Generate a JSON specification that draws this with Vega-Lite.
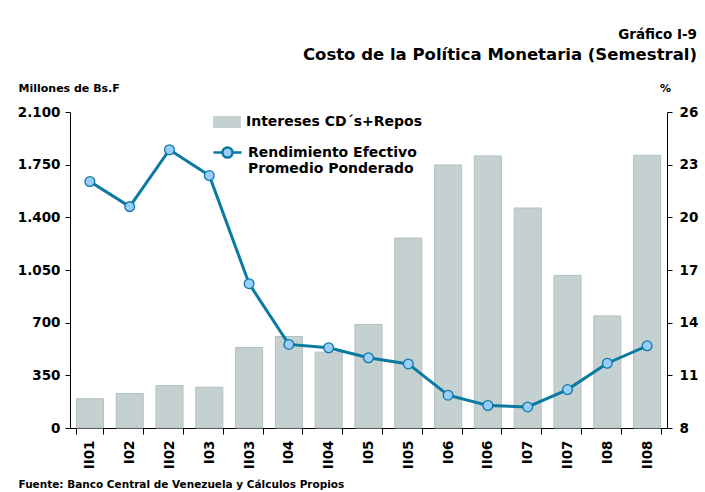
{
  "$schema": "https://vega.github.io/schema/vega-lite/v6.json",
  "width": 597,
  "height": 316,
  "autosize": {"type": "none"},
  "padding": {"left": 70, "top": 112, "right": 38, "bottom": 64},
  "background": "white",
  "config": {
    "view": {"stroke": null},
    "font": "DejaVu Sans",
    "axis": {
      "labelFont": "DejaVu Sans", "labelFontWeight": "bold", "labelColor": "black",
      "titleFont": "DejaVu Sans", "titleFontWeight": "bold", "titleColor": "black",
      "domainColor": "black", "tickColor": "black", "grid": false
    },
    "legend": {"labelFont": "DejaVu Sans", "labelFontWeight": "bold", "labelColor": "black", "labelLimit": 400}
  },
  "title": {
    "text": "Gráfico I-9",
    "subtitle": "Costo de la Política Monetaria (Semestral)",
    "anchor": "end",
    "frame": "group",
    "dx": 30,
    "offset": 19,
    "font": "DejaVu Sans",
    "fontSize": 13.5,
    "fontWeight": "bold",
    "color": "black",
    "subtitleFont": "DejaVu Sans",
    "subtitleFontSize": 16.5,
    "subtitleFontWeight": "bold",
    "subtitleColor": "black",
    "subtitlePadding": 5
  },
  "data": {
    "values": [
      {"periodo": "II01", "intereses": 195, "rendimiento": 22.04},
      {"periodo": "I02", "intereses": 229, "rendimiento": 20.61},
      {"periodo": "II02", "intereses": 282, "rendimiento": 23.85},
      {"periodo": "I03", "intereses": 271, "rendimiento": 22.38},
      {"periodo": "II03", "intereses": 535, "rendimiento": 16.22},
      {"periodo": "I04", "intereses": 608, "rendimiento": 12.76},
      {"periodo": "II04", "intereses": 504, "rendimiento": 12.57},
      {"periodo": "I05", "intereses": 688, "rendimiento": 12.0},
      {"periodo": "II05", "intereses": 1262, "rendimiento": 11.65},
      {"periodo": "I06", "intereses": 1748, "rendimiento": 9.87},
      {"periodo": "II06", "intereses": 1808, "rendimiento": 9.28},
      {"periodo": "I07", "intereses": 1462, "rendimiento": 9.2},
      {"periodo": "II07", "intereses": 1014, "rendimiento": 10.19},
      {"periodo": "I08", "intereses": 745, "rendimiento": 11.69},
      {"periodo": "II08", "intereses": 1812, "rendimiento": 12.68}
    ]
  },
  "encoding": {
    "x": {
      "field": "periodo",
      "type": "nominal",
      "sort": null,
      "scale": {"paddingInner": 0.32, "paddingOuter": 0.16},
      "axis": {
        "labelAngle": 270,
        "labelFontSize": 13.5,
        "labelPadding": 6,
        "tickBand": "extent",
        "tickSize": 6,
        "title": "Fuente: Banco Central de Venezuela y Cálculos Propios",
        "titleFontSize": 10.5,
        "titleX": -52,
        "titleY": 56,
        "titleAlign": "left",
        "titleBaseline": "middle"
      }
    }
  },
  "layer": [
    {
      "mark": {"type": "bar", "stroke": "#b3bfc0", "strokeWidth": 1},
      "encoding": {
        "y": {
          "field": "intereses",
          "type": "quantitative",
          "scale": {"domain": [0, 2100], "nice": false},
          "axis": {
            "values": [0, 350, 700, 1050, 1400, 1750, 2100],
            "labelExpr": "replace(format(datum.value, ','), ',', '.')",
            "labelFontSize": 13.5,
            "labelPadding": 5,
            "tickSize": 5,
            "title": "Millones de Bs.F",
            "titleFontSize": 11,
            "titleAngle": 0,
            "titleX": -52,
            "titleY": -24,
            "titleAlign": "left",
            "titleBaseline": "middle"
          }
        },
        "fill": {
          "datum": "Intereses CD´s+Repos",
          "type": "nominal",
          "scale": {"range": ["#c5d0d1"]},
          "legend": {
            "orient": "none",
            "legendX": 143,
            "legendY": -4,
            "title": null,
            "symbolType": "M-1,-0.43H1V0.43H-1Z",
            "symbolSize": 784,
            "symbolStrokeWidth": 0,
            "labelFontSize": 14,
            "labelOffset": 5
          }
        }
      }
    },
    {
      "encoding": {
        "y": {
          "field": "rendimiento",
          "type": "quantitative",
          "scale": {"domain": [8, 26], "nice": false},
          "axis": {
            "orient": "right",
            "values": [8, 11, 14, 17, 20, 23, 26],
            "labelFontSize": 13.5,
            "labelPadding": 7,
            "tickSize": 5,
            "title": "%",
            "titleFontSize": 11,
            "titleAngle": 0,
            "titleX": -2,
            "titleY": -24,
            "titleAlign": "center",
            "titleBaseline": "middle"
          }
        },
        "stroke": {
          "datum": "Rendimiento Efectivo Promedio Ponderado",
          "type": "nominal",
          "scale": {"range": ["#0a7aa2"]},
          "legend": {
            "orient": "none",
            "legendX": 142,
            "legendY": 25,
            "title": null,
            "symbolType": "M-1,0H-0.36M0.36,0H1M0.36,0A0.36,0.36 0 1 1 -0.36,0A0.36,0.36 0 1 1 0.36,0",
            "symbolSize": 784,
            "symbolStrokeWidth": 2.5,
            "symbolFillColor": "#99ccff",
            "labelFontSize": 14,
            "labelOffset": 5,
            "labelExpr": "['Rendimiento Efectivo', 'Promedio Ponderado']"
          }
        }
      },
      "layer": [
        {"mark": {"type": "line", "strokeWidth": 3}},
        {"mark": {"type": "point", "filled": true, "fill": "#99ccff", "strokeWidth": 1.3, "size": 95, "opacity": 1}}
      ]
    }
  ],
  "resolve": {"scale": {"y": "independent"}}
}
